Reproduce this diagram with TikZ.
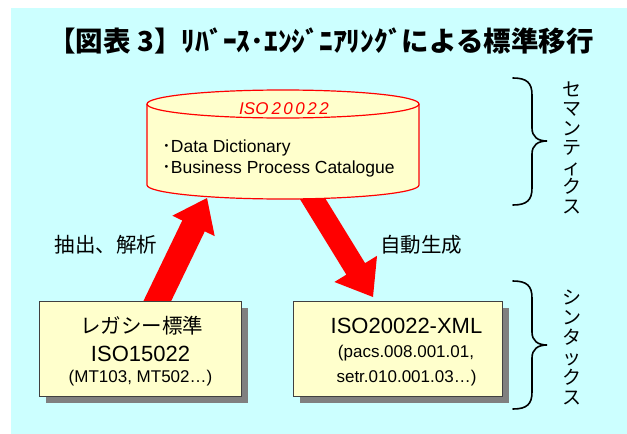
\documentclass[tikz,border=0pt]{standalone}
\usepackage{fontspec}
\setmainfont{Liberation Sans}
\newfontfamily\jp{Noto Sans CJK JP}
\usetikzlibrary{calc,shadows}
\definecolor{bgcyan}{HTML}{CCFFFF}
\definecolor{paleyel}{HTML}{FFFFCC}
\definecolor{shadowgray}{HTML}{808080}
\definecolor{boxline}{HTML}{404040}
\definecolor{arrowred}{HTML}{FF0000}
\newcommand\fatarrow[5]{%
  \coordinate (hb) at ($(#2)!#5!(#1)$);
  \fill[arrowred] ($(#1)!#3!90:(#2)$) -- ($(hb)!#3!90:(#2)$) -- ($(hb)!#4!90:(#2)$) -- (#2)
    -- ($(hb)!#4!-90:(#2)$) -- ($(hb)!#3!-90:(#2)$) -- ($(#1)!#3!-90:(#2)$) -- cycle;}
\tikzset{
  boxstyle/.style={draw=boxline, fill=paleyel, line width=0.8pt, minimum width=#1,
    minimum height=95pt, inner sep=0pt,
    drop shadow={shadow xshift=7pt, shadow yshift=-7pt, fill=shadowgray, opacity=1}},
  jptext/.style={font=\jp\fontsize{20.5}{24}\selectfont, inner sep=0pt},
  bigtext/.style={font=\fontsize{22}{26}\selectfont, inner sep=0pt, anchor=base},
  smalltext/.style={font=\fontsize{17}{20}\selectfont, inner sep=0pt, anchor=base},
  cyltext/.style={font=\fontsize{17.5}{21}\selectfont, inner sep=0pt, anchor=base west},
  bracestyle/.style={draw=black, line width=1.6pt, line cap=round},
  vertical/.style={font=\jp\fontsize{19}{#1}\selectfont, align=center, inner sep=0pt}
}
\begin{document}
\begin{tikzpicture}[x=1pt,y=-1pt]
\useasboundingbox (0,0) rectangle (627,434);
\fill[white] (0,0) rectangle (627,434);
\fill[bgcyan] (11,8) rectangle (627,434);

% title
\node[font=\jp\bfseries\fontsize{27.5}{30}\selectfont, inner sep=0pt] (title) at (321,41.5)
  {【図表\hspace{0.25em}3】ﾘﾊﾞｰｽ･ｴﾝｼﾞﾆｱﾘﾝｸﾞによる標準移行};

% arrows
\coordinate (upT) at (152,312);
\coordinate (upP) at (207,198);
\coordinate (dnT) at (306,188);
\coordinate (dnP) at (373,297);
\fatarrow{upT}{upP}{12.5pt}{23.5pt}{31pt}
\fatarrow{dnT}{dnP}{11pt}{25pt}{33pt}

% cylinder
\fill[paleyel] (147,104) -- (147,185) arc[start angle=180,end angle=360,x radius=136pt,y radius=14pt] -- (419,104) -- cycle;
\draw[arrowred, line width=1.2pt] (147,104) -- (147,185) arc[start angle=180,end angle=360,x radius=136pt,y radius=14pt] -- (419,104);
\draw[arrowred, fill=paleyel, line width=1.2pt] (283,104) ellipse [x radius=136pt, y radius=14pt];
\node[inner sep=0pt, minimum width=272pt, minimum height=109pt] (cyl) at (283,144.5) {};
\node[font=\itshape\fontsize{17}{20}\selectfont, text=arrowred, inner sep=0pt, anchor=base] (isoname) at (284,114.5)
  {ISO\hspace{3pt}2\hspace{2.5pt}0\hspace{2.5pt}0\hspace{2.5pt}2\hspace{2.5pt}2};
\node[cyltext] (dd) at (162,152) {{\jp ･}Data Dictionary};
\node[cyltext] (bpc) at (162,173) {{\jp ･}Business Process Catalogue};

% boxes
\node[boxstyle=202pt] (legacy) at (140,348.5) {};
\node[boxstyle=209pt] (xml) at (397.5,348.5) {};
\node[jptext] (legacyjp) at (141.5,326) {レガシー標準};
\node[bigtext] (iso15) at (140.5,361) {ISO15022};
\node[smalltext] (mt) at (140.5,382) {(MT103, MT502…)};
\node[bigtext] (isoxml) at (406.5,333) {ISO20022-XML};
\node[smalltext] (pacs) at (406,357) {(pacs.008.001.01,};
\node[smalltext] (setr) at (406.5,382) {setr.010.001.03…)};

% arrow labels
\node[jptext] (extract) at (106,245) {抽出、解析};
\node[jptext] (autogen) at (421,245) {自動生成};

% braces
\draw[bracestyle] (513,78) .. controls (527,78) and (532,83) .. (532,95) -- (532,128)
  .. controls (532,137) and (538,141) .. (547,141)
  .. controls (538,141) and (532,145) .. (532,154) -- (532,188)
  .. controls (532,200) and (527,205) .. (513,205);
\draw[bracestyle] (513,281) .. controls (527,281) and (532,286) .. (532,298) -- (532,332)
  .. controls (532,341) and (538,345) .. (547,345)
  .. controls (538,345) and (532,349) .. (532,358) -- (532,392)
  .. controls (532,404) and (527,409) .. (513,409);
\coordinate (semtip) at (547,141);
\coordinate (syntip) at (547,345);

% vertical labels
\node[vertical=19.5pt] (sem) at (572,147.5) {セ\\マ\\ン\\テ\\ィ\\ク\\ス};
\node[vertical=20pt] (syn) at (572,347.5) {シ\\ン\\タ\\ッ\\ク\\ス};
\end{tikzpicture}
\end{document}
